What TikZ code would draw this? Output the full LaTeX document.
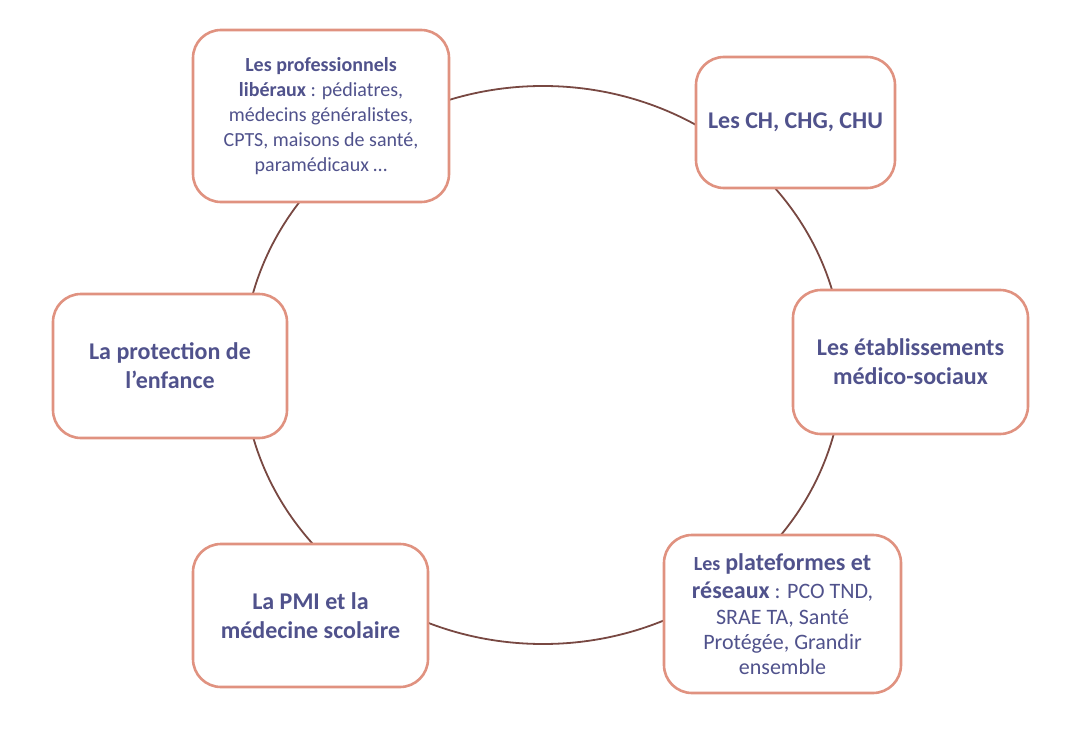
\documentclass[tikz,border=0pt]{standalone}
\usepackage{fontspec}
\setmainfont{Carlito}
\definecolor{boxtext}{RGB}{80,82,140}
\definecolor{boxline}{RGB}{224,146,128}
\definecolor{ringline}{RGB}{120,72,66}
\newcommand{\grand}[1]{{\fontsize{24}{25}\selectfont\bfseries #1}}
\newcommand{\petit}[1]{{\fontsize{20}{25}\selectfont\bfseries #1}}

\begin{document}
\begin{tikzpicture}[x=1pt,y=-1pt,
		acteur/.style={draw=boxline, line width=2.6pt, rounded corners=28pt, fill=white,
			text=boxtext, align=center, font=\fontsize{24}{29}\selectfont\bfseries},
		detail/.style={acteur, font=\fontsize{20}{25}\selectfont},
		ring/.style={draw=ringline, line width=1.8pt}]
		\useasboundingbox (0,0) rectangle (1071,733);
		\draw[ring] (543,365) ellipse [x radius=300pt, y radius=279pt];
		\node[detail, minimum width=256pt, minimum height=172pt] (pro) at (321,116)
			{\textbf{Les professionnels}\\\textbf{libéraux} : pédiatres,\\médecins généralistes,\\CPTS, maisons de santé,\\paramédicaux …};
		\node[acteur, minimum width=199pt, minimum height=131pt] (ch) at (795.5,122.5) {Les CH, CHG, CHU};
		\node[acteur, minimum width=235pt, minimum height=144pt] (etab) at (910.5,362) {Les établissements\\médico-sociaux};
		\node[detail, font=\fontsize{22}{25}\selectfont, minimum width=237pt, minimum height=158pt] (plat) at (782.5,614)
			{\petit{Les} \grand{plateformes et}\\[3pt]\grand{réseaux} : PCO TND,\\[1pt]SRAE TA, Santé\\Protégée, Grandir\\ensemble};
		\node[acteur, minimum width=235pt, minimum height=143pt] (pmi) at (310.5,615.5) {La PMI et la\\médecine scolaire};
		\node[acteur, minimum width=234pt, minimum height=144pt] (prot) at (170,366) {La protection de\\l’enfance};
	\end{tikzpicture}
\end{document}
